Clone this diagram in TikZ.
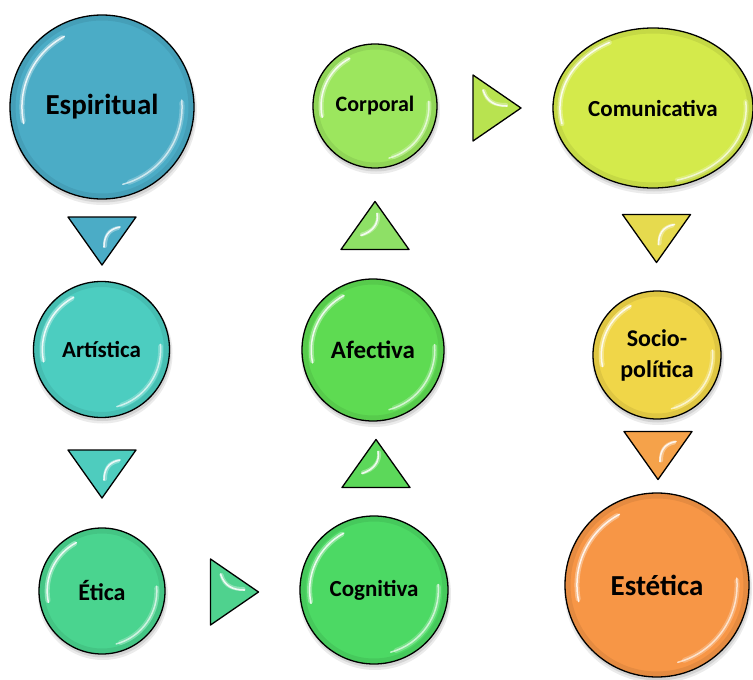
\documentclass[tikz,border=0pt]{standalone}
\usepackage{fontspec}
\setmainfont{Carlito}
\usetikzlibrary{shapes.geometric}
\definecolor{cEsp}{HTML}{4BACC6}
\definecolor{cArt}{HTML}{4CCDC0}
\definecolor{cEti}{HTML}{4AD48F}
\definecolor{cCog}{HTML}{4CD964}
\definecolor{cAfe}{HTML}{5EDB52}
\definecolor{cCor}{HTML}{9CE65E}
\definecolor{cCom}{HTML}{D4EA4B}
\definecolor{cSoc}{HTML}{F0D648}
\definecolor{cEst}{HTML}{F79646}
\definecolor{tA}{HTML}{4BACC6}
\definecolor{tB}{HTML}{4ECCBE}
\definecolor{tC}{HTML}{4FD28E}
\definecolor{tD}{HTML}{5CD85A}
\definecolor{tE}{HTML}{8EE066}
\definecolor{tF}{HTML}{B8E350}
\definecolor{tG}{HTML}{E6DA4E}
\definecolor{tH}{HTML}{F5A24A}
\tikzset{
  ball/.style={circle, draw=black, line width=1.3pt, inner sep=0pt, align=center, font=\bfseries},
  glosssoft/.style={white, opacity=0.35, line width=5pt, line cap=round},
  gloss/.style={white, opacity=0.85, line width=1.5pt, line cap=round},
  rim/.style={black, opacity=0.07, line width=5pt},
  tri/.style={draw=black, line width=1.3pt, line join=round},
  trigloss/.style={white, opacity=0.85, line width=1.6pt, line cap=round},
  triglosssoft/.style={white, opacity=0.35, line width=4pt, line cap=round}
}
% name, x, y(px), r, color, fontsize, text
\newcommand\gball[7]{%
  \fill[black, opacity=0.08] (#2+1,-#3-4) circle[radius=#4+2];
  \fill[black, opacity=0.10] (#2+1,-#3-3) circle[radius=#4+0.5];
  \node[ball, fill=#5, minimum size={2*#4pt}, font=\bfseries\fontsize{#6}{28}\selectfont] (#1) at (#2,-#3) {#7};
  \draw[rim] (#1.center) circle[radius=#4-3];
  \draw[glosssoft] (#1.center) ++(120:0.87*#4) arc[start angle=120, end angle=190, radius=0.87*#4];
  \draw[gloss] (#1.center) ++(118:0.87*#4) arc[start angle=118, end angle=192, radius=0.87*#4];
  \draw[glosssoft, opacity=0.25] (#1.center) ++(-70:0.87*#4) arc[start angle=-70, end angle=3, radius=0.87*#4];
  \draw[gloss, opacity=0.65] (#1.center) ++(-75:0.87*#4) arc[start angle=-75, end angle=5, radius=0.87*#4];
}
% down triangle: cx, cy(px), color
\newcommand\downtri[3]{%
  \draw[tri, fill=#3] (#1-34,-#2+24) -- (#1+34,-#2+24) -- (#1,-#2-24) -- cycle;
  \draw[triglosssoft] (#1+16,-#2+13) .. controls (#1+6,-#2+11) and (#1+3,-#2+4) .. (#1+3,-#2-5);
  \draw[trigloss] (#1+18,-#2+14) .. controls (#1+6,-#2+12) and (#1+2,-#2+4) .. (#1+2,-#2-6);
}
\newcommand\uptri[3]{%
  \draw[tri, fill=#3] (#1-34,-#2-24) -- (#1+34,-#2-24) -- (#1,-#2+24) -- cycle;
  \draw[triglosssoft] (#1+3,-#2+11) .. controls (#1+4,-#2+2) and (#1-2,-#2-6) .. (#1-13,-#2-9);
  \draw[trigloss] (#1+2,-#2+12) .. controls (#1+4,-#2+2) and (#1-2,-#2-6) .. (#1-14,-#2-10);
}
\newcommand\righttri[3]{%
  \draw[tri, fill=#3] (#1-24,-#2+33) -- (#1+24,-#2) -- (#1-24,-#2-33) -- cycle;
  \draw[triglosssoft] (#1-13,-#2+17) .. controls (#1-10,-#2+6) and (#1-2,-#2+3) .. (#1+9,-#2+3);
  \draw[trigloss] (#1-14,-#2+18) .. controls (#1-10,-#2+6) and (#1-2,-#2+2) .. (#1+10,-#2+2);
}
\begin{document}
\begin{tikzpicture}[x=1pt,y=1pt]
\useasboundingbox (0,0) rectangle (753,-680);
% triangles
\downtri{102}{241}{tA}
\downtri{102}{474}{tB}
\righttri{234.5}{592}{tC}
\uptri{376}{463.5}{tD}
\uptri{375}{225.5}{tE}
\righttri{497}{108}{tF}
\downtri{656.5}{238.5}{tG}
\downtri{658}{455.5}{tH}
% balls
\gball{esp}{102}{107}{92}{cEsp}{29}{Espiritual}
\gball{art}{101.5}{349.5}{68}{cArt}{23}{Artística}
\gball{eti}{102}{591}{63}{cEti}{24}{Ética}
\gball{cog}{374}{590}{74}{cCog}{23}{Cognitiva}
\gball{afe}{373}{350}{71}{cAfe}{25}{Afectiva}
\gball{cor}{375}{106}{62}{cCor}{22}{Corporal}
\gball{soc}{657}{355}{64}{cSoc}{24}{Socio-\\[3pt]política}
\gball{est}{657}{585}{92}{cEst}{29}{Estética}
% ellipse
\fill[black, opacity=0.08] (654,-112) ellipse[x radius=102, y radius=82];
\fill[black, opacity=0.10] (654,-111) ellipse[x radius=100.5, y radius=80.5];
\node[ellipse, draw=black, line width=1.3pt, fill=cCom, minimum width=200pt, minimum height=160pt, inner sep=0pt, font=\bfseries\fontsize{23}{28}\selectfont] (com) at (653,-108) {Comunicativa};
\draw[rim] (com.center) ellipse[x radius=97, y radius=77];
\draw[glosssoft] (com.center) ++(-100*0.93*0.47,80*0.93*0.88) arc[start angle=118, end angle=192, x radius=0.93*100, y radius=0.93*80];
\draw[gloss] (com.center) ++(-100*0.93*0.47,80*0.93*0.88) arc[start angle=118, end angle=192, x radius=0.93*100, y radius=0.93*80];
\draw[glosssoft, opacity=0.25] (com.center) ++(100*0.93*0.26,-80*0.93*0.97) arc[start angle=-75, end angle=5, x radius=0.93*100, y radius=0.93*80];
\draw[gloss, opacity=0.65] (com.center) ++(100*0.93*0.26,-80*0.93*0.97) arc[start angle=-75, end angle=5, x radius=0.93*100, y radius=0.93*80];
\end{tikzpicture}
\end{document}
